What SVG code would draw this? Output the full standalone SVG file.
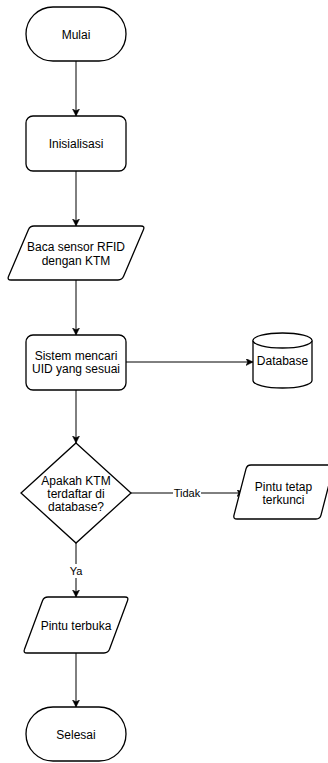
<svg xmlns="http://www.w3.org/2000/svg" width="328" height="763" viewBox="0 0 328 763">
  <style>
    .shape { fill: #ffffff; stroke: #000000; stroke-width: 1.3; }
    .edge { fill: none; stroke: #000000; stroke-width: 1; }
    .t { font-family: "Liberation Sans", Arial, sans-serif; font-size: 12px; fill: #000000; text-anchor: middle; }
    .lbl { font-family: "Liberation Sans", Arial, sans-serif; font-size: 11px; fill: #000000; text-anchor: middle; }
  </style>
  <defs>
    <marker id="arrow" markerUnits="userSpaceOnUse" markerWidth="8" markerHeight="8" refX="7" refY="3.5" orient="auto">
      <path d="M0,0 L7,3.5 L0,7 L1.75,3.5 Z" fill="#000000" stroke="#000000" stroke-width="0.5"/>
    </marker>
  </defs>
  <rect width="328" height="763" fill="#ffffff"/>

  <g id="connectors">
    <line class="edge" x1="76" y1="61" x2="76" y2="116" marker-end="url(#arrow)"/>
    <line class="edge" x1="76" y1="171" x2="76" y2="226" marker-end="url(#arrow)"/>
    <line class="edge" x1="76" y1="280" x2="76" y2="335" marker-end="url(#arrow)"/>
    <line class="edge" x1="126" y1="362" x2="253" y2="362" marker-end="url(#arrow)"/>
    <line class="edge" x1="76" y1="390" x2="76" y2="443" marker-end="url(#arrow)"/>
    <g id="edge-tidak">
      <line class="edge" x1="131" y1="493" x2="244" y2="493" marker-end="url(#arrow)"/>
      <rect x="173" y="486" width="28" height="14" fill="#ffffff"/>
      <text class="lbl" x="187" y="497">Tidak</text>
    </g>
    <g id="edge-ya">
      <line class="edge" x1="76" y1="543" x2="76" y2="597" marker-end="url(#arrow)"/>
      <rect x="68" y="564" width="16" height="14" fill="#ffffff"/>
      <text class="lbl" x="76" y="575">Ya</text>
    </g>
    <line class="edge" x1="76" y1="653" x2="76" y2="707" marker-end="url(#arrow)"/>
  </g>

  <g id="mulai">
    <rect class="shape" x="26" y="7" width="100" height="54" rx="27" ry="27"/>
    <text class="t" x="76" y="38.5">Mulai</text>
  </g>

  <g id="inisialisasi">
    <rect class="shape" x="26" y="116" width="100" height="55" rx="7" ry="7"/>
    <text class="t" x="76" y="148">Inisialisasi</text>
  </g>

  <g id="baca">
    <path class="shape" d="M34,226 L141,226 Q145,226 143.4,229.7 L123.6,276.3 Q122,280 118,280 L11,280 Q7,280 8.6,276.3 L28.4,229.7 Q30,226 34,226 Z"/>
    <text class="t" x="76" y="251">Baca sensor RFID</text>
    <text class="t" x="76" y="264.5">dengan KTM</text>
  </g>

  <g id="sistem">
    <rect class="shape" x="26" y="335" width="100" height="55" rx="7" ry="7"/>
    <text class="t" x="76" y="359.5">Sistem mencari</text>
    <text class="t" x="76" y="373">UID yang sesuai</text>
  </g>

  <g id="database">
    <path class="shape" d="M253,340.5 A29.5,7.5 0 0 1 312,340.5 L312,380.5 A29.5,7.5 0 0 1 253,380.5 Z"/>
    <path class="shape" fill="none" d="M253,340.5 A29.5,7.5 0 0 0 312,340.5"/>
    <text class="t" x="282.5" y="364.5">Database</text>
  </g>

  <g id="keputusan">
    <path class="shape" d="M76,443 L131,493 L76,543 L21,493 Z"/>
    <text class="t" x="76" y="484.5">Apakah KTM</text>
    <text class="t" x="76" y="497.5">terdaftar di</text>
    <text class="t" x="76" y="510.5">database?</text>
  </g>

  <g id="terkunci">
    <path class="shape" d="M251,465 L330,465 Q334,465 333,468.9 L321,515.1 Q320,519 316,519 L237,519 Q233,519 234,515.1 L246,468.9 Q247,465 251,465 Z"/>
    <text class="t" x="283.5" y="491">Pintu tetap</text>
    <text class="t" x="283.5" y="504">terkunci</text>
  </g>

  <g id="terbuka">
    <path class="shape" d="M48,597 L125,597 Q129,597 127.5,600.7 L109.5,649.3 Q108,653 104,653 L27,653 Q23,653 24.5,649.3 L42.5,600.7 Q44,597 48,597 Z"/>
    <text class="t" x="76" y="629.5">Pintu terbuka</text>
  </g>

  <g id="selesai">
    <rect class="shape" x="26" y="707" width="100" height="54" rx="27" ry="27"/>
    <text class="t" x="76" y="738.5">Selesai</text>
  </g>
</svg>
